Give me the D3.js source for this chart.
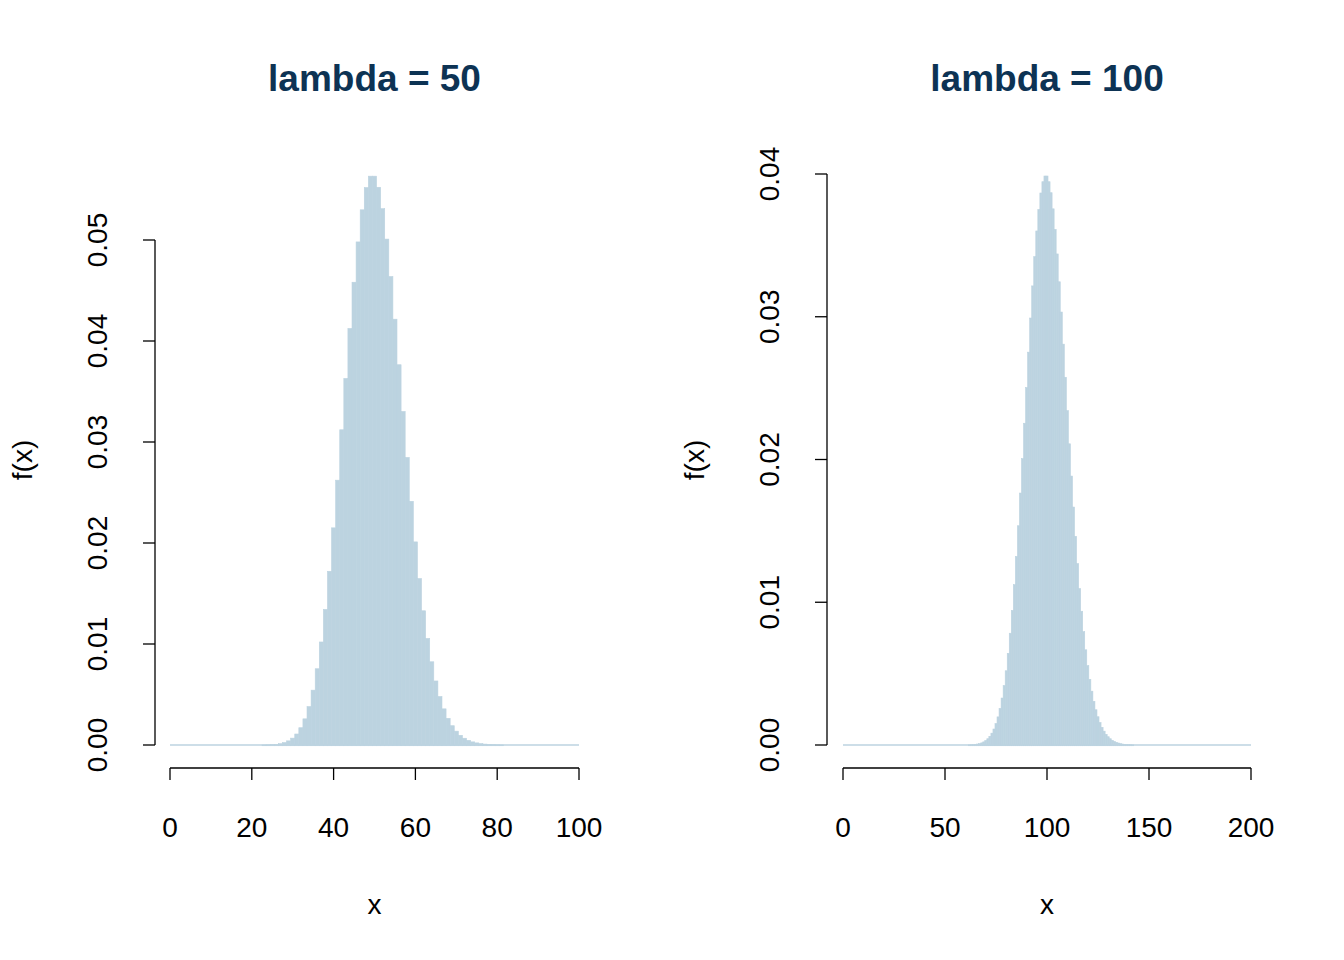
<!DOCTYPE html>
<html><head><meta charset="utf-8">
<script src="https://cdn.jsdelivr.net/npm/d3@7"></script>
<style>body{margin:0;background:#fff}text{font-family:"Liberation Sans",Arial,sans-serif}</style>
</head><body>
<script>
// values (k = start .. start + n - 1); everything else is ~0
var lambda50Start = 23;
var lambda50Values = [0.00001,0.00002,0.00004,0.00007,0.00013,0.00024,0.00041,0.00068,0.00109,0.00171,
  0.00259,0.00380,0.00543,0.00755,0.01020,0.01342,0.01720,0.02150,0.02622,0.03121,
  0.03629,0.04124,0.04582,0.04981,0.05299,0.05519,0.05632,0.05632,0.05522,0.05310,
  0.05009,0.04638,0.04216,0.03765,0.03302,0.02847,0.02413,0.02011,0.01648,0.01329,
  0.01055,0.00824,0.00634,0.00480,0.00358,0.00264,0.00191,0.00137,0.00096,0.00067,
  0.00046,0.00031,0.00021,0.00014,0.00009,0.00006,0.00004,0.00002,0.00001];
var lambda100Start = 62;
var lambda100Values = [0.00001,0.00002,0.00003,0.00005,0.00007,0.00010,0.00015,0.00022,0.00031,0.00044,
  0.00061,0.00083,0.00112,0.00150,0.00197,0.00256,0.00329,0.00416,0.00520,0.00642,
  0.00783,0.00943,0.01123,0.01321,0.01536,0.01765,0.02006,0.02254,0.02504,0.02752,
  0.02991,0.03216,0.03421,0.03601,0.03751,0.03867,0.03946,0.03986,0.03986,0.03946,
  0.03869,0.03756,0.03612,0.03440,0.03245,0.03033,0.02808,0.02576,0.02342,0.02110,
  0.01884,0.01667,0.01462,0.01271,0.01096,0.00937,0.00794,0.00667,0.00556,0.00460,
  0.00377,0.00306,0.00247,0.00198,0.00157,0.00124,0.00097,0.00075,0.00058,0.00044,
  0.00033,0.00025,0.00019,0.00014,0.00010,0.00007,0.00005,0.00004,0.00003,0.00002,0.00001];
var panels = [
  {title: "lambda = 50", start: lambda50Start, values: lambda50Values, xMax: 100,
   xTicks: [0,20,40,60,80,100], yTicks: [0,0.01,0.02,0.03,0.04,0.05],
   x0: 170, x1: 579, yAxisX: 155, yTop: 240, yTopVal: 0.05, yLabX: 97, fxX: 22},
  {title: "lambda = 100", start: lambda100Start, values: lambda100Values, xMax: 200,
   xTicks: [0,50,100,150,200], yTicks: [0,0.01,0.02,0.03,0.04],
   x0: 843, x1: 1251, yAxisX: 827, yTop: 174, yTopVal: 0.04, yLabX: 769, fxX: 694}
];
var barColor = "#bcd3e0", titleColor = "#0d3354";
var svg = d3.select("body").append("svg").attr("width", 1344).attr("height", 960);

panels.forEach(function(p) {
  var x = d3.scaleLinear().domain([0, p.xMax]).range([p.x0, p.x1]);
  var y = d3.scaleLinear().domain([0, p.yTopVal]).range([745, p.yTop]);
  var g = svg.append("g");
  var data = p.values.map(function(v, i) { return {k: p.start + i, v: v}; });

  // zero baseline across the whole range
  g.append("line").attr("x1", x(0)).attr("x2", x(p.xMax)).attr("y1", y(0)).attr("y2", y(0))
    .attr("stroke", barColor).attr("stroke-width", 1.5);
  g.selectAll("rect").data(data).enter().append("rect")
    .attr("x", function(d) { return x(d.k - 0.5); })
    .attr("width", x(1) - x(0))
    .attr("y", function(d) { return y(d.v); })
    .attr("height", function(d) { return y(0) - y(d.v) + 0.75; })
    .attr("fill", barColor).attr("stroke", barColor).attr("stroke-width", 0.6);

  // y axis
  g.append("line").attr("x1", p.yAxisX).attr("x2", p.yAxisX).attr("y1", y(0)).attr("y2", y(p.yTopVal))
    .attr("stroke", "#000").attr("stroke-width", 1.3);
  p.yTicks.forEach(function(t) {
    g.append("line").attr("x1", p.yAxisX - 12).attr("x2", p.yAxisX).attr("y1", y(t)).attr("y2", y(t))
      .attr("stroke", "#000").attr("stroke-width", 1.3);
    g.append("text").attr("transform", "translate(" + (p.yLabX + 10) + "," + y(t) + ") rotate(-90)")
      .attr("text-anchor", "middle").attr("font-size", 28).text(d3.format(".2f")(t));
  });
  // x axis
  g.append("line").attr("x1", x(0)).attr("x2", x(p.xMax)).attr("y1", 768).attr("y2", 768)
    .attr("stroke", "#000").attr("stroke-width", 1.3);
  p.xTicks.forEach(function(t) {
    g.append("line").attr("x1", x(t)).attr("x2", x(t)).attr("y1", 768).attr("y2", 780)
      .attr("stroke", "#000").attr("stroke-width", 1.3);
    g.append("text").attr("x", x(t)).attr("y", 837).attr("text-anchor", "middle")
      .attr("font-size", 28).text(t);
  });
  g.append("text").attr("x", (p.x0 + p.x1) / 2).attr("y", 914).attr("text-anchor", "middle")
    .attr("font-size", 28).text("x");
  g.append("text").attr("transform", "translate(" + (p.fxX + 10) + ",460) rotate(-90)")
    .attr("text-anchor", "middle").attr("font-size", 28).text("f(x)");
  g.append("text").attr("x", (p.x0 + p.x1) / 2).attr("y", 91).attr("text-anchor", "middle")
    .attr("font-size", 37).attr("font-weight", "bold").attr("fill", titleColor).text(p.title);
});
</script>
</body></html>
